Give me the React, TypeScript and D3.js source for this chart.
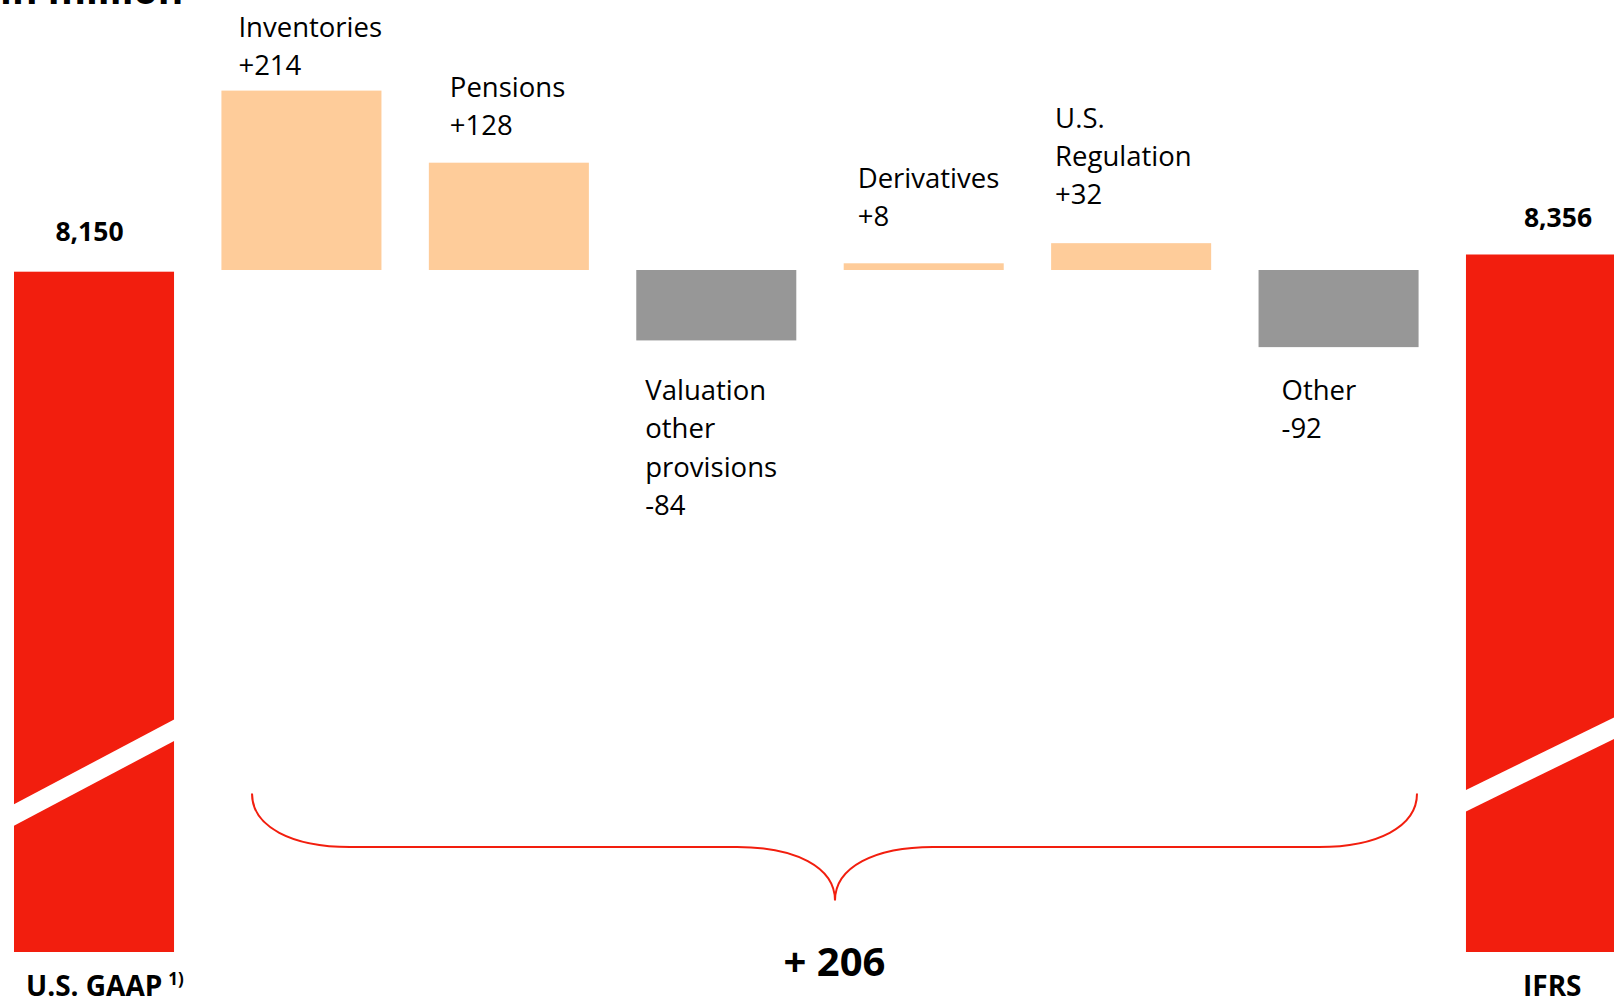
import React from "react";
import * as d3 from "d3";

// ---- data ----
const categories = ["Inventories", "Pensions", "Valuation other provisions", "Derivatives", "U.S. Regulation", "Other"];
const labelLines = [["Inventories"], ["Pensions"], ["Valuation", "other", "provisions"], ["Derivatives"], ["U.S.", "Regulation"], ["Other"]];
const deltas = [214, 128, -84, 8, 32, -92];
const totalNames = ["U.S. GAAP", "IFRS"];
const totalValues = [8150, 8356];
const totalValueLabels = ["8,150", "8,356"];
const netChangeLabel = "+ 206";
const titleText = "in million";

// ---- layout (not data) ----
const W = 1614;
const H = 1001;
const labelDx = [17, 21, 9, 14, 4, 23];
const labelY = [37, 97, 400, 188, 127.6, 400];
const lineH = 38.3;

const RED = "#f21e0e";
const PEACH = "#fecc9a";
const GRAY = "#979797";
const FONT = "'Open Sans', 'Noto Sans', sans-serif";

const fmtDelta = (v: number) => (v > 0 ? "+" + v : "-" + Math.abs(v));

export default function App() {
  const allKeys = [totalNames[0], ...categories, totalNames[1]];
  const x = d3.scaleBand<string>().domain(allKeys).range([14, 1626]).paddingInner(0.2285).paddingOuter(0);
  const bw = x.bandwidth();

  const yDelta = d3.scaleLinear().domain([0, 214]).range([270, 90.6]);
  const yTotal = d3.scaleLinear().domain([0, 8356]).range([952, 254.5]);

  // break stripe slopes
  const breaks = [
    { y0: 804.3, slope: 0.53 },
    { y0: 790, slope: 0.49 },
  ];
  const gapH = 21.5;

  const bracePath = (() => {
    const p = d3.path();
    const xl = 252, xr = 1417, yTop = 793.6, yMid = 847, xc = 835, yTip = 900.6;
    p.moveTo(xl, yTop);
    p.bezierCurveTo(xl, yMid - 20, xl + 40, yMid, xl + 98, yMid);
    p.lineTo(xc - 98, yMid);
    p.bezierCurveTo(xc - 40, yMid, xc, yMid + 20, xc, yTip);
    p.bezierCurveTo(xc, yMid + 20, xc + 40, yMid, xc + 98, yMid);
    p.lineTo(xr - 98, yMid);
    p.bezierCurveTo(xr - 40, yMid, xr, yMid - 20, xr, yTop);
    return p.toString();
  })();

  return (
    <svg
      width={W}
      height={H}
      viewBox={`0 0 ${W} ${H}`}
      style={{ position: "absolute", left: 0, top: 0, display: "block", background: "#fff" }}
      fontFamily={FONT}
    >
      <rect x={0} y={0} width={W} height={H} fill="#fff" />
      <text x={0} y={4} fontSize={39} fontWeight={700} fill="#000">{titleText}</text>

      {/* total bars */}
      {totalNames.map((name, i) => {
        const bx = x(name)!;
        const top = yTotal(totalValues[i]);
        const b = breaks[i];
        const y1 = b.y0;
        const y2 = b.y0 - b.slope * bw;
        return (
          <g key={name}>
            <rect x={bx} y={top} width={bw} height={yTotal(0) - top} fill={RED} />
            <polygon
              points={`${bx - 1},${y1 + b.slope} ${bx + bw + 1},${y2 - b.slope} ${bx + bw + 1},${y2 - b.slope + gapH} ${bx - 1},${y1 + b.slope + gapH}`}
              fill="#fff"
            />
          </g>
        );
      })}

      {/* total value labels */}
      <text x={89.5} y={241} fontSize={26.5} fontWeight={700} textAnchor="middle" fill="#000">{totalValueLabels[0]}</text>
      <text x={1558} y={226.5} fontSize={26.5} fontWeight={700} textAnchor="middle" fill="#000">{totalValueLabels[1]}</text>

      {/* delta bars */}
      {categories.map((c, i) => {
        const v = deltas[i];
        const y0 = yDelta(0);
        const y1 = yDelta(v);
        return (
          <rect
            key={c}
            x={x(c)!}
            y={Math.min(y0, y1)}
            width={bw}
            height={Math.abs(y1 - y0)}
            fill={v >= 0 ? PEACH : GRAY}
          />
        );
      })}

      {/* delta labels */}
      {categories.map((c, i) => {
        const lines = [...labelLines[i], fmtDelta(deltas[i])];
        return (
          <text key={c + "-l"} x={x(c)! + labelDx[i]} y={labelY[i]} fontSize={27.5} fill="#000">
            {lines.map((t, j) => (
              <tspan key={j} x={x(c)! + labelDx[i]} y={labelY[i] + j * lineH}>{t}</tspan>
            ))}
          </text>
        );
      })}

      {/* brace */}
      <path d={bracePath} fill="none" stroke={RED} strokeWidth={2} />
      <text x={834.5} y={976} fontSize={40} fontWeight={700} textAnchor="middle" fill="#000">{netChangeLabel}</text>

      {/* category labels under totals */}
      <text x={26} y={995.5} fontSize={28} fontWeight={700} fill="#000">
        {totalNames[0]}
        <tspan fontSize={17} dy={-11} dx={6}>1)</tspan>
      </text>
      <text x={1523} y={995.5} fontSize={28} fontWeight={700} fill="#000">{totalNames[1]}</text>
    </svg>
  );
}
